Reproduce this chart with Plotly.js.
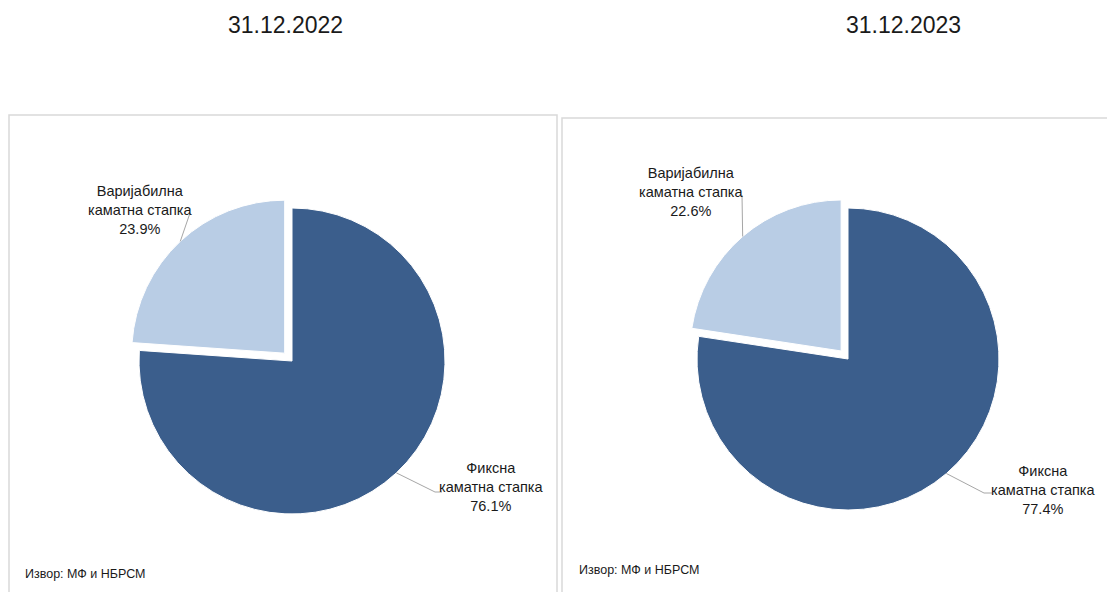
<!DOCTYPE html>
<html>
<head>
<meta charset="utf-8">
<script src="https://cdn.plot.ly/plotly-3.0.1.min.js"></script>
<style>
  html, body { margin: 0; padding: 0; background: #ffffff; }
  #chart { width: 1107px; height: 592px; }
</style>
</head>
<body>
<div id="chart"></div>
<script>
// ---------------- DATA ----------------
const dates = ['31.12.2022', '31.12.2023'];
const categories = ['Фиксна<br>каматна стапка', 'Варијабилна<br>каматна стапка'];
const fixedShare = [76.1, 77.4];
const variableShare = [23.9, 22.6];
const sourceNote = 'Извор: МФ и НБРСМ';

// ---------------- STYLE / LAYOUT ----------------
const W = 1107, H = 592;
const FONT = '"Liberation Sans Narrow", "Arial Narrow", "Liberation Sans", Arial, sans-serif';
const colors = ['#3b5e8c', '#b9cde5'];
const pulls = [0, 0.07];
const pies = [
  { cx: 292, cy: 361, r: 153, titleX: 285, box: [9, 115, 557], note: [23, 574],
    labels: [ { x: 491, y: 487, path: [[435, 492], [442, 492]] },
              { x: 140, y: 210, path: [[190, 213]] } ] },
  { cx: 848, cy: 359, r: 151, titleX: 903, box: [562, 118, 1120], note: [577, 570],
    labels: [ { x: 1043, y: 490, path: [[984, 493], [992, 493]] },
              { x: 691, y: 192, path: [[742, 195]] } ] }
];

const px = v => v / W;
const py = v => 1 - v / H;

const traces = [];
const annotations = [];
const shapes = [];
const maxPull = Math.max(...pulls);

pies.forEach((p, k) => {
  const values = [fixedShare[k], variableShare[k]];
  const side = 2 * p.r * (1 + maxPull);
  traces.push({
    type: 'pie',
    values: values,
    labels: categories,
    sort: false,
    direction: 'clockwise',
    rotation: 0,
    pull: pulls,
    textinfo: 'none',
    hoverinfo: 'label+percent',
    marker: { colors: colors, line: { color: '#ffffff', width: 1 } },
    showlegend: false,
    domain: {
      x: [px(p.cx - side / 2), px(p.cx + side / 2)],
      y: [py(p.cy + side / 2), py(p.cy - side / 2)]
    }
  });

  // title
  annotations.push({
    xref: 'paper', yref: 'paper', x: px(p.titleX), y: py(25),
    xanchor: 'center', yanchor: 'middle', showarrow: false,
    text: dates[k], font: { family: FONT, size: 23, color: '#1a1a1a' }
  });

  // source note
  annotations.push({
    xref: 'paper', yref: 'paper', x: px(p.note[0]), y: py(p.note[1]),
    xanchor: 'left', yanchor: 'middle', showarrow: false,
    text: sourceNote, font: { family: FONT, size: 12.5, color: '#1a1a1a' }
  });

  // frame
  shapes.push({
    type: 'rect', xref: 'paper', yref: 'paper',
    x0: px(p.box[0]), x1: px(p.box[2]), y0: -0.1, y1: py(p.box[1]),
    line: { color: '#d9d9d9', width: 1.5 }, fillcolor: 'rgba(0,0,0,0)', layer: 'below'
  });

  // labels + leader lines, anchored to each slice's mid-angle
  const total = values.reduce((a, b) => a + b, 0);
  let cum = 0;
  values.forEach((v, i) => {
    const mid = (cum + v / 2) / total;
    cum += v;
    const th = mid * 2 * Math.PI;
    const rr = p.r * (1 + pulls[i]);
    const sx = p.cx + Math.sin(th) * rr;
    const sy = p.cy - Math.cos(th) * rr;
    const L = p.labels[i];
    let d = `M ${px(sx)},${py(sy)}`;
    L.path.forEach(pt => { d += ` L ${px(pt[0])},${py(pt[1])}`; });
    shapes.push({
      type: 'path', xref: 'paper', yref: 'paper', path: d,
      line: { color: '#a6a6a6', width: 1 }
    });
    annotations.push({
      xref: 'paper', yref: 'paper', x: px(L.x), y: py(L.y),
      xanchor: 'center', yanchor: 'middle', showarrow: false, align: 'center',
      text: categories[i] + '<br>' + (v / total * 100).toFixed(1) + '%',
      font: { family: FONT, size: 14.5, color: '#1a1a1a' }
    });
  });
});

const layout = {
  width: W, height: H,
  margin: { l: 0, r: 0, t: 0, b: 0 },
  paper_bgcolor: '#ffffff',
  plot_bgcolor: '#ffffff',
  showlegend: false,
  annotations: annotations,
  shapes: shapes
};

Plotly.newPlot('chart', traces, layout, { displayModeBar: false, staticPlot: true });
</script>
</body>
</html>
